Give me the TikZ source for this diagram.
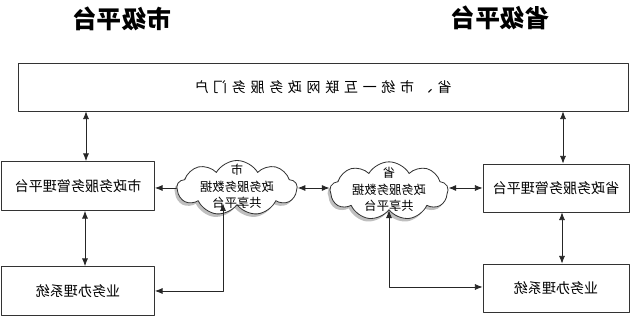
\documentclass[tikz,border=0pt]{standalone}
\usepackage{fontspec}
\usepackage{graphicx}
\newfontfamily\cjk{Noto Sans CJK SC}
\newfontfamily\cjkwide[LetterSpace=33]{Noto Sans CJK SC}
\usetikzlibrary{arrows.meta,shapes.symbols,shadows}
% the source figure is printed mirrored, so every text is reflected
\newcommand{\flip}[1]{\reflectbox{#1}}
\newcommand{\fliplines}[1]{\reflectbox{\begin{tabular}{@{}c@{}}#1\end{tabular}}}

\begin{document}
\begin{tikzpicture}[x=.03cm,y=-.03cm,line cap=round,line join=round,
    >={Latex[length=2.3mm,width=1.8mm]},
    box/.style={draw=black!80,line width=.7pt,fill=white,inner sep=0pt,font=\cjk\fontsize{12}{14}\selectfont},
    heading/.style={font=\cjk\bfseries\fontsize{21}{24}\selectfont},
    cloudbox/.style={cloud,cloud puffs=9,cloud puff arc=120,cloud ignores aspect,draw=black!80,
      line width=.7pt,fill=white,drop shadow={shadow xshift=-.07cm,shadow yshift=-.09cm,fill=black!50}},
    cloudtext/.style={inner sep=0pt,font=\cjk\fontsize{10.5}{14}\selectfont},
    link/.style={draw=black!85,line width=.7pt}]
  \path[use as bounding box,fill=white] (0,0) rectangle (630,319);

  % headings
  \node[heading] (cityTitle) at (122,19) {\flip{市级平台}};
  \node[heading] (provTitle) at (500,18) {\flip{省级平台}};

  % portal spanning both levels
  \node[box,minimum width=18.3cm,minimum height=1.44cm] (portal) at (323,87)
    {\flip{\cjkwide 省、市统一互联网政务服务门户}};

  % city side
  \node[box,minimum width=4.59cm,minimum height=1.47cm] (cityMgmt) at (78,186) {\flip{市政务服务管理平台}};
  \node[box,minimum width=4.59cm,minimum height=1.47cm] (cityBiz) at (78,291) {\flip{业务办理系统}};
  \node[cloudbox,minimum width=3.6cm,minimum height=1.65cm] (cityCloud) at (237,188) {};
  \node[cloudtext] (cityCloudText) at (cityCloud) {\fliplines{市\\政务服务数据\\共享平台}};

  % province side
  \node[box,minimum width=4.38cm,minimum height=1.44cm] (provMgmt) at (556,188) {\flip{省政务服务管理平台}};
  \node[box,minimum width=4.38cm,minimum height=1.44cm] (provBiz) at (556,288) {\flip{业务办理系统}};
  \node[cloudbox,minimum width=3.54cm,minimum height=1.75cm] (provCloud) at (389,191) {};
  \node[cloudtext] (provCloudText) at (provCloud) {\fliplines{省\\政务服务数据\\共享平台}};

  % connectors
  \draw[link,<->] ([xshift=.24cm]cityMgmt.north |- portal.south) -- ([xshift=.24cm]cityMgmt.north);
  \draw[link,<->] ([xshift=.21cm]cityMgmt.south) -- ([xshift=.21cm]cityBiz.north);
  \draw[link,->] (cityCloud.west) -- (cityMgmt.east |- cityCloud.west);
  \draw[link,<->] (cityBiz.east) -| ([xshift=-.42cm,yshift=.06cm]cityCloud.south);
  \draw[link,<->] (cityCloud.east) -- (provCloud.west |- cityCloud.east);
  \draw[link,<->] (provCloud.east |- provMgmt.west) -- (provMgmt.west);
  \draw[link,<->] ([xshift=.21cm]provMgmt.north |- portal.south) -- ([xshift=.21cm]provMgmt.north);
  \draw[link,<->] ([xshift=.18cm]provMgmt.south) -- ([xshift=.18cm]provBiz.north);
  \draw[link,<->] (provCloud.south) |- ([yshift=.03cm]provBiz.west);
\end{tikzpicture}
\end{document}
